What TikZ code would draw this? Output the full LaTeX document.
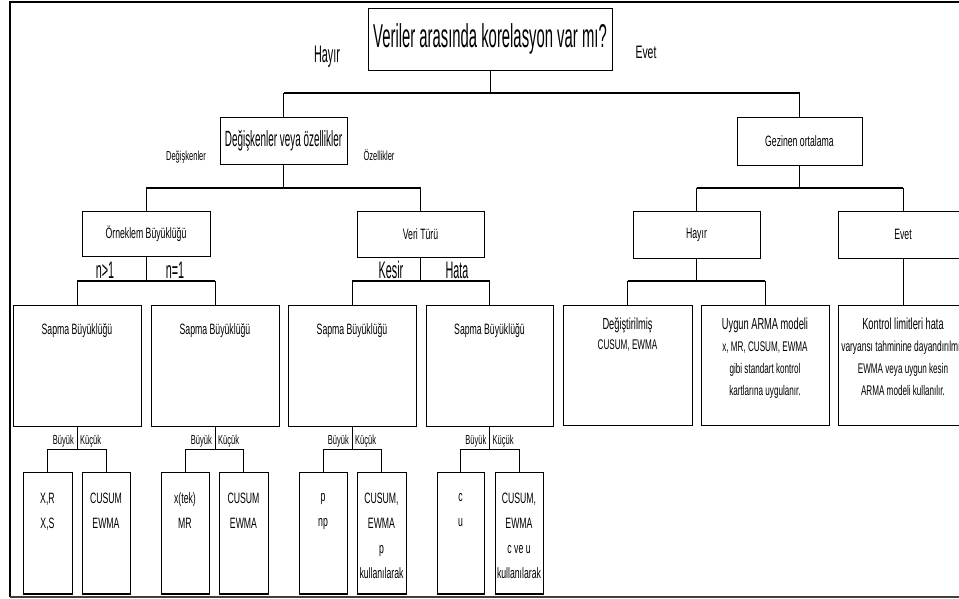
\documentclass[tikz,border=0pt]{standalone}
\usepackage{fontspec}
\setmainfont{Liberation Sans}
\newfontfamily\fnar{Liberation Sans}[FakeStretch=0.45]
\newfontfamily\fsm{Liberation Sans}[FakeStretch=0.58]
\begin{document}
\begin{tikzpicture}[x=1pt,y=-1pt,
  box/.style={draw, line width=1pt, inner sep=0pt, align=center},
  conn/.style={line width=0.8pt},
  bar/.style={line width=1.8pt},
  fbig/.style={font=\fnar\fontsize{33}{36}\selectfont},
  fmid/.style={font=\fnar\fontsize{24}{26}\selectfont},
  fmed/.style={font=\fnar\fontsize{22}{24}\selectfont},
  fsmall/.style={font=\fsm\fontsize{15}{17}\selectfont},
  flab/.style={font=\fsm\fontsize{18}{20}\selectfont},
  ftiny/.style={font=\fsm\fontsize{13}{15}\selectfont},
  fbot/.style={font=\fsm\fontsize{15}{25}\selectfont},
  fright/.style={font=\fsm\fontsize{16}{22}\selectfont},
  fright2/.style={font=\fsm\fontsize{14}{22}\selectfont},
  lbl/.style={inner sep=1pt}
]
\useasboundingbox (0,0) rectangle (959,598);
\clip (0,0) rectangle (959,598);
\fill[white] (0,0) rectangle (959,598);
% outer frame
\draw[line width=1.5pt] (10,597) -- (10,2) -- (959,2);
\draw[line width=1.2pt, black!75] (10,597) -- (959,597);

% level 0
\node[box, fbig, minimum width=244, minimum height=62] (title) at (490,39) {Veriler arasında korelasyon var mı?};
\node[lbl, fmid] (lhayir) at (327,57) {Hayır};
\node[lbl, flab] (levet) at (646,52) {Evet};

% level 1
\node[box, fmed, minimum width=127, minimum height=47] (dv) at (283.5,140.5) {Değişkenler veya özellikler};
\node[box, fsmall, minimum width=125, minimum height=48] (gez) at (799.5,141) {Gezinen ortalama};
\node[lbl, ftiny] (ldeg) at (186,157) {Değişkenler};
\node[lbl, ftiny] (lozel) at (379,155) {Özellikler};

% level 2
\node[box, fsmall, minimum width=128, minimum height=45] (orn) at (146,233.5) {Örneklem Büyüklüğü};
\node[box, fsmall, minimum width=127, minimum height=46] (veri) at (420.5,234) {Veri Türü};
\node[box, fsmall, minimum width=127, minimum height=47] (hay2) at (696.5,234.5) {Hayır};
\node[box, fsmall, minimum width=130, minimum height=47] (evet2) at (903,234.5) {Evet};

% level 3
\foreach \n/\cx/\w in {s1/77/128, s2/215/128, s3/352/128, s4/489.5/127}{
  \node[box, minimum width=\w, minimum height=121] (\n) at (\cx,365.5) {};
  \node[fsmall, anchor=north] (\n t) at ([yshift=-15pt]\n.north) {Sapma Büyüklüğü};
}
\node[box, minimum width=129, minimum height=120] (d1) at (627.5,365) {};
\node[box, minimum width=128, minimum height=120] (d2) at (765,365) {};
\node[box, minimum width=130, minimum height=120] (d3) at (903,365) {};
\node[anchor=north, align=center, fright] (d1t) at ([yshift=-10pt]d1.north) {Değiştirilmiş\\[-2pt]{\fsm\fontsize{14}{22}\selectfont CUSUM, EWMA}};
\node[anchor=north, align=center, fright2] (d2t) at ([yshift=-10pt]d2.north) {{\fontsize{16}{22}\selectfont Uygun ARMA modeli}\\x, MR, CUSUM, EWMA\\gibi standart kontrol\\kartlarına uygulanır.};
\node[anchor=north, align=center, fright2] (d3t) at ([yshift=-10pt]d3.north) {{\fontsize{16}{22}\selectfont Kontrol limitleri hata}\\{\fontsize{14.5}{22}\selectfont varyansı tahminine dayandırılmış}\\EWMA veya uygun kesin\\ARMA modeli kullanılır.};

% level 4
\foreach \n/\cx/\w in {b1/47.5/49, b2/106/48, b3/185/48, b4/243.5/49, b5/323/48, b6/381.5/49, b7/460.5/47, b8/519/48}{
  \node[box, minimum width=\w, minimum height=121] (\n) at (\cx,532.5) {};
  \draw[line width=2pt] (\n.south west) -- (\n.south east);
}
\node[anchor=north, align=center, fbot] (b1t) at ([yshift=-18pt]b1.north) {X,R\\X,S};
\node[anchor=north, align=center, fbot] (b2t) at ([yshift=-18pt]b2.north) {CUSUM\\EWMA};
\node[anchor=north, align=center, fbot] (b3t) at ([yshift=-18pt]b3.north) {x(tek)\\MR};
\node[anchor=north, align=center, fbot] (b4t) at ([yshift=-18pt]b4.north) {CUSUM\\EWMA};
\node[anchor=north, align=center, fbot] (b5t) at ([yshift=-18pt]b5.north) {p\\np};
\node[anchor=north, align=center, fbot] (b6t) at ([yshift=-18pt]b6.north) {CUSUM,\\EWMA\\p\\kullanılarak};
\node[anchor=north, align=center, fbot] (b7t) at ([yshift=-18pt]b7.north) {c\\u};
\node[anchor=north, align=center, fbot] (b8t) at ([yshift=-18pt]b8.north) {CUSUM,\\EWMA\\c ve u\\kullanılarak};

% bracket coordinates
\coordinate (y1) at (0,93);
\coordinate (y2) at (0,188);
\coordinate (y3) at (0,281);
\coordinate (y4) at (0,449);

% connectors level 0 -> 1
\draw[conn] (title.south) -- (title.south |- y1);
\draw[bar] (dv.north |- y1) -- (gez.north |- y1);
\draw[conn] (dv.north |- y1) -- (dv.north);
\draw[conn] (gez.north |- y1) -- (gez.north);

% level 1 -> 2
\draw[conn] (dv.south) -- (dv.south |- y2);
\draw[bar] (orn.north |- y2) -- (veri.north |- y2);
\draw[conn] (orn.north |- y2) -- (orn.north);
\draw[conn] (veri.north |- y2) -- (veri.north);
\draw[conn] (gez.south) -- (gez.south |- y2);
\draw[bar] (hay2.north |- y2) -- (evet2.north |- y2);
\draw[conn] (hay2.north |- y2) -- (hay2.north);
\draw[conn] (evet2.north |- y2) -- (evet2.north);

% level 2 -> 3
\foreach \p/\a/\b in {orn/s1/s2, veri/s3/s4, hay2/d1/d2}{
  \draw[conn] (\p.south) -- (\p.south |- y3);
  \draw[bar] (\a.north |- y3) -- (\b.north |- y3);
  \draw[conn] (\a.north |- y3) -- (\a.north);
  \draw[conn] (\b.north |- y3) -- (\b.north);
}
\draw[conn] (evet2.south) -- (d3.north);

% level 3 -> 4
\foreach \p/\a/\b in {s1/b1/b2, s2/b3/b4, s3/b5/b6, s4/b7/b8}{
  \draw[conn] (\p.south) -- (\p.south |- y4);
  \draw[conn] (\a.north |- y4) -- (\b.north |- y4);
  \draw[conn] (\a.north |- y4) -- (\a.north);
  \draw[conn] (\b.north |- y4) -- (\b.north);
  \node[ftiny, anchor=south east, inner sep=1pt] (\p by) at ([xshift=-2pt,yshift=1pt]\p.south |- y4) {Büyük};
  \node[ftiny, anchor=south west, inner sep=1pt] (\p ku) at ([xshift=2pt,yshift=1pt]\p.south |- y4) {Küçük};
}

% branch labels
\node[fmid, inner sep=0pt] (ln1) at (105,270) {n>1};
\node[fmid, inner sep=0pt] (ln2) at (175,270) {n=1};
\node[fmid, inner sep=0pt] (lkes) at (391,270) {Kesir};
\node[fmid, inner sep=0pt] (lhat) at (457,270) {Hata};
\end{tikzpicture}
\end{document}
